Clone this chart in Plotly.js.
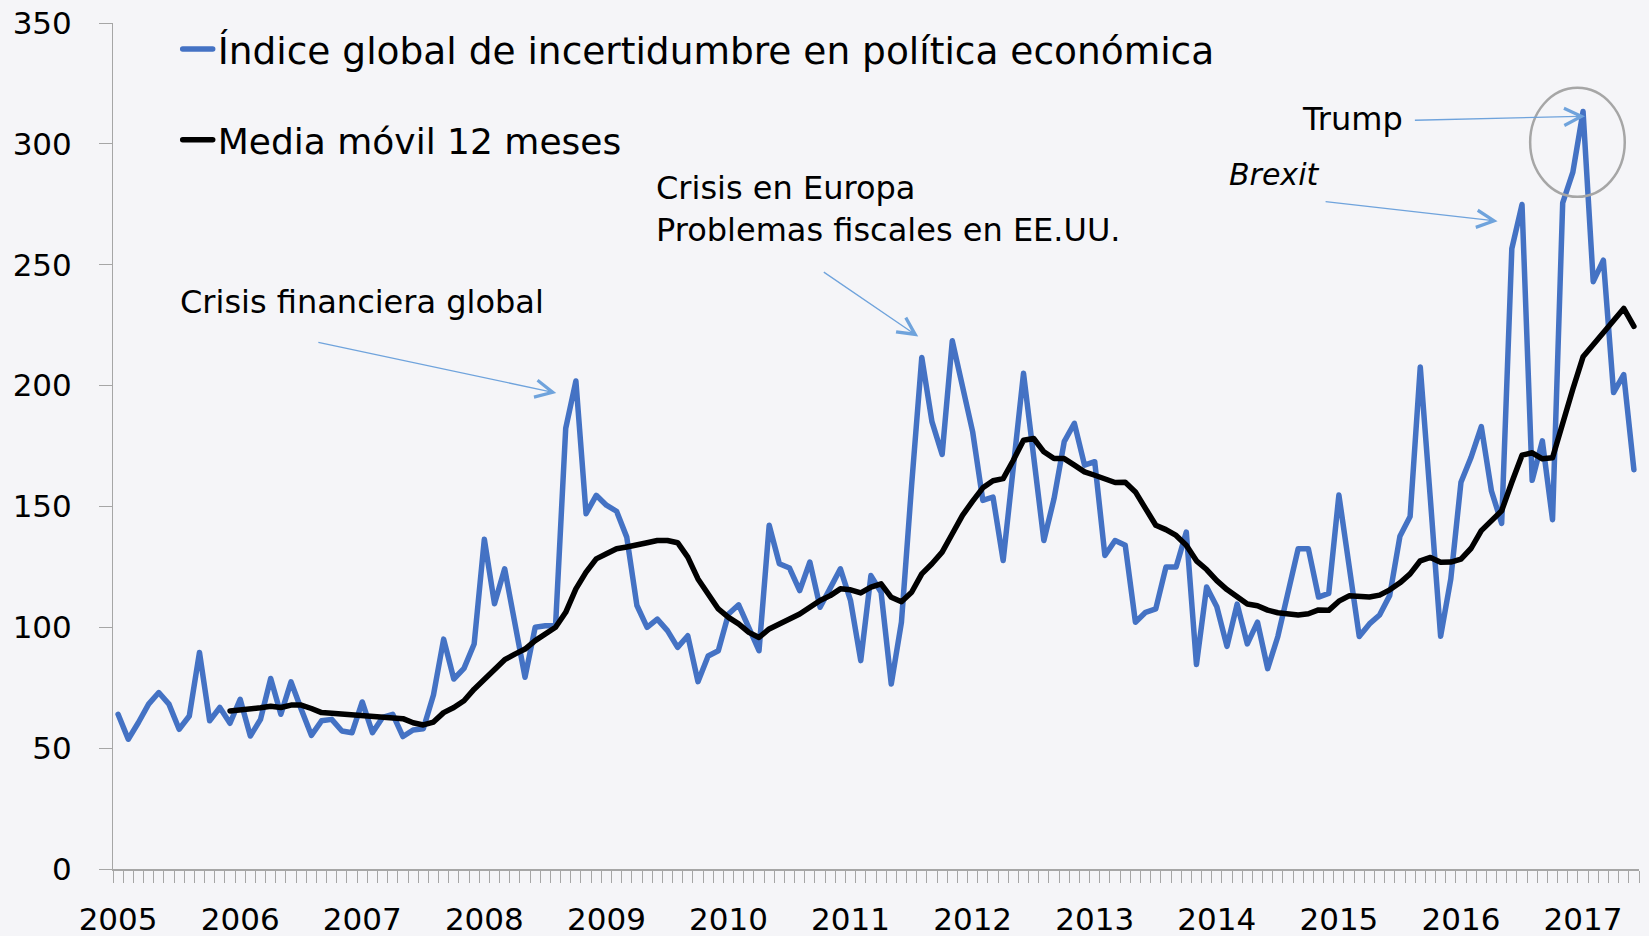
<!DOCTYPE html>
<html>
<head>
<meta charset="utf-8">
<script src="https://cdn.plot.ly/plotly-3.0.1.min.js"></script>
<style>
  html, body { margin: 0; padding: 0; background: #F5F5F8; }
  #chart { width: 1649px; height: 936px; }
  .js-line { stroke-linejoin: round; stroke-linecap: round; }
</style>
</head>
<body>
<div id="chart"></div>
<script>
// ---- Data ----
const years = ["2005","2006","2007","2008","2009","2010","2011","2012","2013","2014","2015","2016","2017"];
const monthNums = ["01","02","03","04","05","06","07","08","09","10","11","12"];

// Índice global de incertidumbre en política económica (monthly, Jan 2005 - Jun 2017)
const indiceGlobal = [
  64.0, 53.7, 60.6, 68.2, 73.0, 68.2, 57.8, 63.3, 89.6, 61.3, 66.8, 60.3,
  70.2, 55.0, 61.9, 78.8, 64.0, 77.4, 66.1, 55.3, 61.3, 61.9, 57.1, 56.4,
  69.1, 56.4, 62.7, 64.0, 54.8, 57.5, 58.0, 72.0, 95.1, 78.6, 83.0, 93.1,
  136.4, 109.7, 124.2, 102.1, 79.3, 100.0, 100.6, 100.6, 182.3, 201.9, 147.0, 154.6,
  150.5, 148.0, 137.3, 109.0, 100.0, 103.4, 98.6, 91.7, 96.5, 77.5, 88.1, 90.3,
  105.5, 109.3, 99.3, 90.3, 142.2, 126.3, 124.5, 115.2, 127.0, 108.3, 116.2, 124.2,
  111.0, 86.2, 121.4, 114.5, 76.5, 102.1, 158.8, 211.6, 185.1, 171.5, 218.5, 199.6,
  180.9, 152.5, 153.9, 127.6, 166.4, 205.1, 170.5, 135.9, 153.2, 176.8, 184.4, 167.1,
  168.5, 129.7, 135.9, 133.9, 102.1, 106.2, 107.6, 124.9, 124.9, 139.4, 84.6, 116.7,
  108.5, 92.1, 109.6, 93.1, 102.1, 82.9, 96.2, 113.2, 132.5, 132.5, 112.5, 114.0,
  154.7, 125.5, 96.2, 101.4, 105.1, 113.2, 137.7, 145.8, 207.7, 152.6, 96.3, 120.0,
  160.0, 170.4, 183.0, 156.3, 143.0, 256.7, 274.9, 160.8, 177.1, 144.5, 275.6, 288.3,
  313.4, 243.0, 251.9, 197.1, 204.5, 165.2
];

// Media móvil 12 meses (from Dec 2005 to Jun 2017)
const mediaMovil = [
  65.4,
  65.7, 66.1, 66.7, 67.3, 66.8, 67.8, 67.8, 66.4, 64.7, 64.4, 64.1, 63.7,
  63.7, 63.5, 63.3, 63.0, 62.2, 60.5, 59.6, 60.8, 64.7, 66.8, 69.6, 74.4,
  78.6, 82.7, 86.6, 88.9, 91.0, 94.5, 97.2, 100.0, 106.2, 115.9, 122.8, 128.3,
  130.4, 132.5, 133.2, 133.9, 135.0, 135.9, 135.9, 135.0, 129.0, 120.0, 113.8, 107.6,
  104.1, 101.4, 97.9, 95.8, 99.3, 101.4, 103.2, 105.5, 108.3, 111.1, 113.1, 115.9,
  115.5, 114.2, 116.6, 118.0, 112.4, 110.6, 114.5, 122.1, 126.3, 131.1, 138.7, 146.3,
  152.2, 157.7, 160.6, 161.5, 169.1, 177.4, 178.1, 172.6, 169.8, 169.8, 167.1, 164.3,
  162.9, 161.1, 159.9, 160.0, 156.0, 149.1, 142.2, 140.4, 138.0, 133.9, 127.5, 123.9,
  119.3, 115.6, 112.8, 109.6, 108.9, 107.1, 106.0, 105.3, 105.1, 105.6, 107.2, 107.0,
  110.8, 113.0, 112.5, 112.5, 113.3, 115.5, 118.4, 122.1, 127.5, 128.9, 126.9, 127.0,
  128.2, 132.7, 140.0, 144.5, 148.2, 160.0, 171.2, 172.2, 169.7, 170.1, 185.2, 198.6,
  211.9, 217.1, 222.3, 226.7, 231.9, 224.5
];

// Month categories and tick labels (year shown at January)
const months = [];
const tickText = [];
years.forEach(function (y) {
  monthNums.forEach(function (m) {
    if (months.length < indiceGlobal.length) {
      months.push(y + "-" + m);
      tickText.push(m === "01" ? y : "");
    }
  });
});
const maMonths = months.slice(months.length - mediaMovil.length);

const FONT = "DejaVu Sans, Noto Sans, sans-serif";
const BG = "#F5F5F8";
const AXIS = "#A6A6A6";
const ARROW = "#6FA3DC";

const traces = [
  {
    type: "scatter", mode: "lines",
    name: "Índice global de incertidumbre en política económica",
    x: months, y: indiceGlobal,
    line: { color: "#4472C4", width: 5.5 },
    legend: "legend"
  },
  {
    type: "scatter", mode: "lines",
    name: "Media móvil 12 meses",
    x: maMonths, y: mediaMovil,
    line: { color: "#000000", width: 5.5 },
    legend: "legend2"
  }
];

function arrow(x, y, ax, ay) {
  return {
    x: x, y: y, xref: "x", yref: "y", text: "",
    showarrow: true, ax: ax, ay: ay,
    arrowhead: 5, arrowsize: 2.6, arrowwidth: 1.3, arrowcolor: ARROW, standoff: 0
  };
}
function label(text, x, y, size) {
  return {
    text: text, xref: "paper", yref: "paper", x: x, y: y,
    xanchor: "left", yanchor: "middle", align: "left", showarrow: false,
    font: { family: FONT, size: size, color: "#000000" }
  };
}

const layout = {
  width: 1649, height: 936,
  paper_bgcolor: BG, plot_bgcolor: BG,
  margin: { l: 113, r: 10, t: 23, b: 67 },
  font: { family: FONT, color: "#000000" },
  showlegend: true,
  legend: {
    x: 0.0424, y: 0.969, xanchor: "left", yanchor: "middle",
    bgcolor: "rgba(0,0,0,0)", font: { family: FONT, size: 37.5, color: "#000" }
  },
  legend2: {
    x: 0.0424, y: 0.862, xanchor: "left", yanchor: "middle",
    bgcolor: "rgba(0,0,0,0)", font: { family: FONT, size: 36, color: "#000" }
  },
  xaxis: {
    type: "category", categoryarray: months, range: [-0.5, months.length - 0.5],
    tickmode: "array", tickvals: months, ticktext: tickText,
    tickson: "boundaries", ticks: "outside", ticklen: 12, tickwidth: 1, tickcolor: AXIS,
    showline: true, linecolor: AXIS, linewidth: 1.5,
    showgrid: false, zeroline: false, automargin: false,
    tickfont: { family: FONT, size: 31, color: "#000" }, tickangle: 0,
    ticklabelstandoff: 22
  },
  yaxis: {
    range: [0, 350], tickmode: "linear", tick0: 0, dtick: 50,
    ticks: "outside", ticklen: 13, tickwidth: 1, tickcolor: AXIS,
    showline: true, linecolor: AXIS, linewidth: 1,
    showgrid: false, zeroline: false, automargin: false,
    tickfont: { family: FONT, size: 31, color: "#000" },
    ticklabelstandoff: 21
  },
  shapes: [
    {
      type: "circle", xref: "x", yref: "y",
      x0: 138.8, x1: 148.1, y0: 278.1, y1: 323.2,
      line: { color: "#A6A6A6", width: 2.5 }
    }
  ],
  annotations: [
    label("Crisis financiera global", 0.0429, 0.6708, 32),
    label("Crisis en Europa<br>Problemas fiscales en EE.UU.", 0.3544, 0.7801, 32),
    label("<i>Brexit</i>", 0.7298, 0.8210, 30),
    label("Trump", 0.7779, 0.8870, 32),
    arrow(43.07, 196.9, -239.4, -51),
    arrow(78.65, 220.3, -95.9, -65.4),
    arrow(135.6, 268.0, -173.5, -19.8),
    arrow(144.2, 311.4, -171.7, 4)
  ]
};

Plotly.newPlot("chart", traces, layout, { displayModeBar: false, staticPlot: true });
</script>
</body>
</html>
